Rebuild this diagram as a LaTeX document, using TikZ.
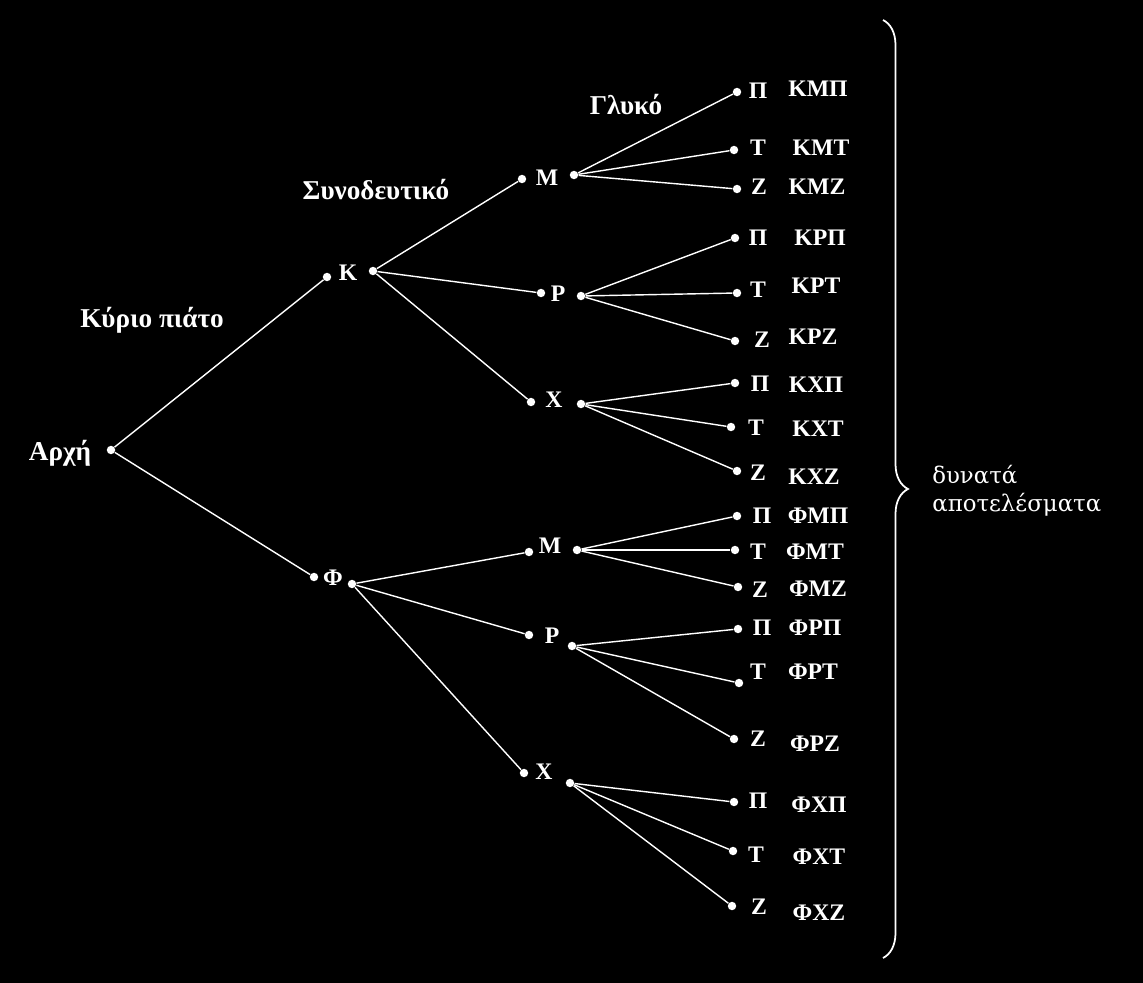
\documentclass[tikz,border=0pt]{standalone}
\usepackage{fontspec}
\setmainfont{Liberation Serif}
\newfontfamily\endfont{DejaVu Serif}
\usetikzlibrary{decorations.pathreplacing,positioning}
\tikzset{
  dot/.style={circle,fill=white,inner sep=0pt,minimum size=4.8pt},
  lbl/.style={text=white,inner sep=0pt,font=\bfseries\fontsize{13.5}{16}\selectfont},
  title/.style={lbl,anchor=base,font=\bfseries\fontsize{15.5}{18}\selectfont},
  branch/.style={draw=white,line width=0.8pt},
}

\begin{document}
\begin{tikzpicture}[x=0.02cm,y=-0.02cm]
                \fill[black] (0,0) rectangle (1143,983);
                % first level
                \node[dot] (a) at (111,450) {};
                \node[title] (arxi) at (60,460) {Αρχή};
                \node[title] (kyrio) at (152,328) {Κύριο πιάτο};
                \node[title] (synod) at (376,200) {Συνοδευτικό};
                \node[title] (glyko) at (626,115) {Γλυκό};
                \node[dot] (k0) at (327,277) {};
                \node[lbl] (kl) at (348,273) {Κ};
                \node[dot] (k1) at (373,271) {};
                \node[dot] (f0) at (314,577) {};
                \node[lbl] (fl) at (333,578) {Φ};
                \node[dot] (f1) at (352,584) {};
                \draw[branch] (a) -- (k0);
                \draw[branch] (a) -- (f0);
                % second level, K
                \node[dot] (km0) at (522,179) {};
                \node[lbl] (kml) at (547,178) {Μ};
                \node[dot] (km1) at (574,175) {};
                \node[dot] (kp0) at (541,293) {};
                \node[lbl] (kpl) at (558,294) {Ρ};
                \node[dot] (kp1) at (581,296) {};
                \node[dot] (kx0) at (531,402) {};
                \node[lbl] (kxl) at (554,400) {Χ};
                \node[dot] (kx1) at (581,404) {};
                \draw[branch] (k1) -- (km0);
                \draw[branch] (k1) -- (kp0);
                \draw[branch] (k1) -- (kx0);
                % second level, Phi
                \node[dot] (fm0) at (529,552) {};
                \node[lbl] (fml) at (550,546) {Μ};
                \node[dot] (fm1) at (577,550) {};
                \node[dot] (fp0) at (529,635) {};
                \node[lbl] (fpl) at (552,636) {Ρ};
                \node[dot] (fp1) at (572,646) {};
                \node[dot] (fx0) at (524,773) {};
                \node[lbl] (fxl) at (544,772) {Χ};
                \node[dot] (fx1) at (570,783) {};
                \draw[branch] (f1) -- (fm0);
                \draw[branch] (f1) -- (fp0);
                \draw[branch] (f1) -- (fx0);
                % leaves
                \node[dot] (kmp) at (737,92) {};
                \node[lbl] (kmpl) at (758,91) {Π};
                \node[lbl] (kmpo) at (818,89) {ΚΜΠ};
                \node[dot] (kmt) at (734,150) {};
                \node[lbl] (kmtl) at (758,148) {Τ};
                \node[lbl] (kmto) at (821,148) {ΚΜΤ};
                \node[dot] (kmz) at (737,189) {};
                \node[lbl] (kmzl) at (759,187) {Ζ};
                \node[lbl] (kmzo) at (817,187) {ΚΜΖ};
                \node[dot] (kpp) at (735,238) {};
                \node[lbl] (kppl) at (758,238) {Π};
                \node[lbl] (kppo) at (820,238) {ΚΡΠ};
                \node[dot] (kpt) at (737,293) {};
                \node[lbl] (kptl) at (758,290) {Τ};
                \node[lbl] (kpto) at (816,286) {ΚΡΤ};
                \node[dot] (kpz) at (735,341) {};
                \node[lbl] (kpzl) at (762,340) {Ζ};
                \node[lbl] (kpzo) at (813,337) {ΚΡΖ};
                \node[dot] (kxp) at (735,383) {};
                \node[lbl] (kxpl) at (760,384) {Π};
                \node[lbl] (kxpo) at (816,385) {ΚΧΠ};
                \node[dot] (kxt) at (731,427) {};
                \node[lbl] (kxtl) at (756,428) {Τ};
                \node[lbl] (kxto) at (818,429) {ΚΧΤ};
                \node[dot] (kxz) at (737,471) {};
                \node[lbl] (kxzl) at (758,473) {Ζ};
                \node[lbl] (kxzo) at (814,477) {ΚΧΖ};
                \node[dot] (fmp) at (737,516) {};
                \node[lbl] (fmpl) at (762,516) {Π};
                \node[lbl] (fmpo) at (818,516) {ΦΜΠ};
                \node[dot] (fmt) at (735,550) {};
                \node[lbl] (fmtl) at (758,552) {Τ};
                \node[lbl] (fmto) at (815,552) {ΦΜΤ};
                \node[dot] (fmz) at (738,587) {};
                \node[lbl] (fmzl) at (760,590) {Ζ};
                \node[lbl] (fmzo) at (818,589) {ΦΜΖ};
                \node[dot] (fpp) at (738,629) {};
                \node[lbl] (fppl) at (762,628) {Π};
                \node[lbl] (fppo) at (815,628) {ΦΡΠ};
                \node[dot] (fpt) at (739,683) {};
                \node[lbl] (fptl) at (758,672) {Τ};
                \node[lbl] (fpto) at (813,672) {ΦΡΤ};
                \node[dot] (fpz) at (734,739) {};
                \node[lbl] (fpzl) at (758,739) {Ζ};
                \node[lbl] (fpzo) at (815,744) {ΦΡΖ};
                \node[dot] (fxp) at (734,802) {};
                \node[lbl] (fxpl) at (758,801) {Π};
                \node[lbl] (fxpo) at (819,805) {ΦΧΠ};
                \node[dot] (fxt) at (733,851) {};
                \node[lbl] (fxtl) at (756,855) {Τ};
                \node[lbl] (fxto) at (819,857) {ΦΧΤ};
                \node[dot] (fxz) at (732,906) {};
                \node[lbl] (fxzl) at (759,907) {Ζ};
                \node[lbl] (fxzo) at (819,913) {ΦΧΖ};
                \draw[branch] (km1) -- (kmp);
                \draw[branch] (km1) -- (kmt);
                \draw[branch] (km1) -- (kmz);
                \draw[branch] (kp1) -- (kpp);
                \draw[branch] (kp1) -- (kpt);
                \draw[branch] (kp1) -- (kpz);
                \draw[branch] (kx1) -- (kxp);
                \draw[branch] (kx1) -- (kxt);
                \draw[branch] (kx1) -- (kxz);
                \draw[branch] (fm1) -- (fmp);
                \draw[branch] (fm1) -- (fmt);
                \draw[branch] (fm1) -- (fmz);
                \draw[branch] (fp1) -- (fpp);
                \draw[branch] (fp1) -- (fpt);
                \draw[branch] (fp1) -- (fpz);
                \draw[branch] (fx1) -- (fxp);
                \draw[branch] (fx1) -- (fxt);
                \draw[branch] (fx1) -- (fxz);
                % brace and outcomes
                \coordinate (btop) at (883,20);
                \coordinate (bbot) at (883,958);
                \draw[white,line width=1pt,decorate,decoration={brace,amplitude=0.5cm}] (btop) -- (bbot);
                \node[text=white,inner sep=0pt,anchor=base west,align=left,font=\endfont\fontsize{13}{15.5}\selectfont] (res) at (932,511) {δυνατά\\αποτελέσματα};
            \end{tikzpicture}
\end{document}
